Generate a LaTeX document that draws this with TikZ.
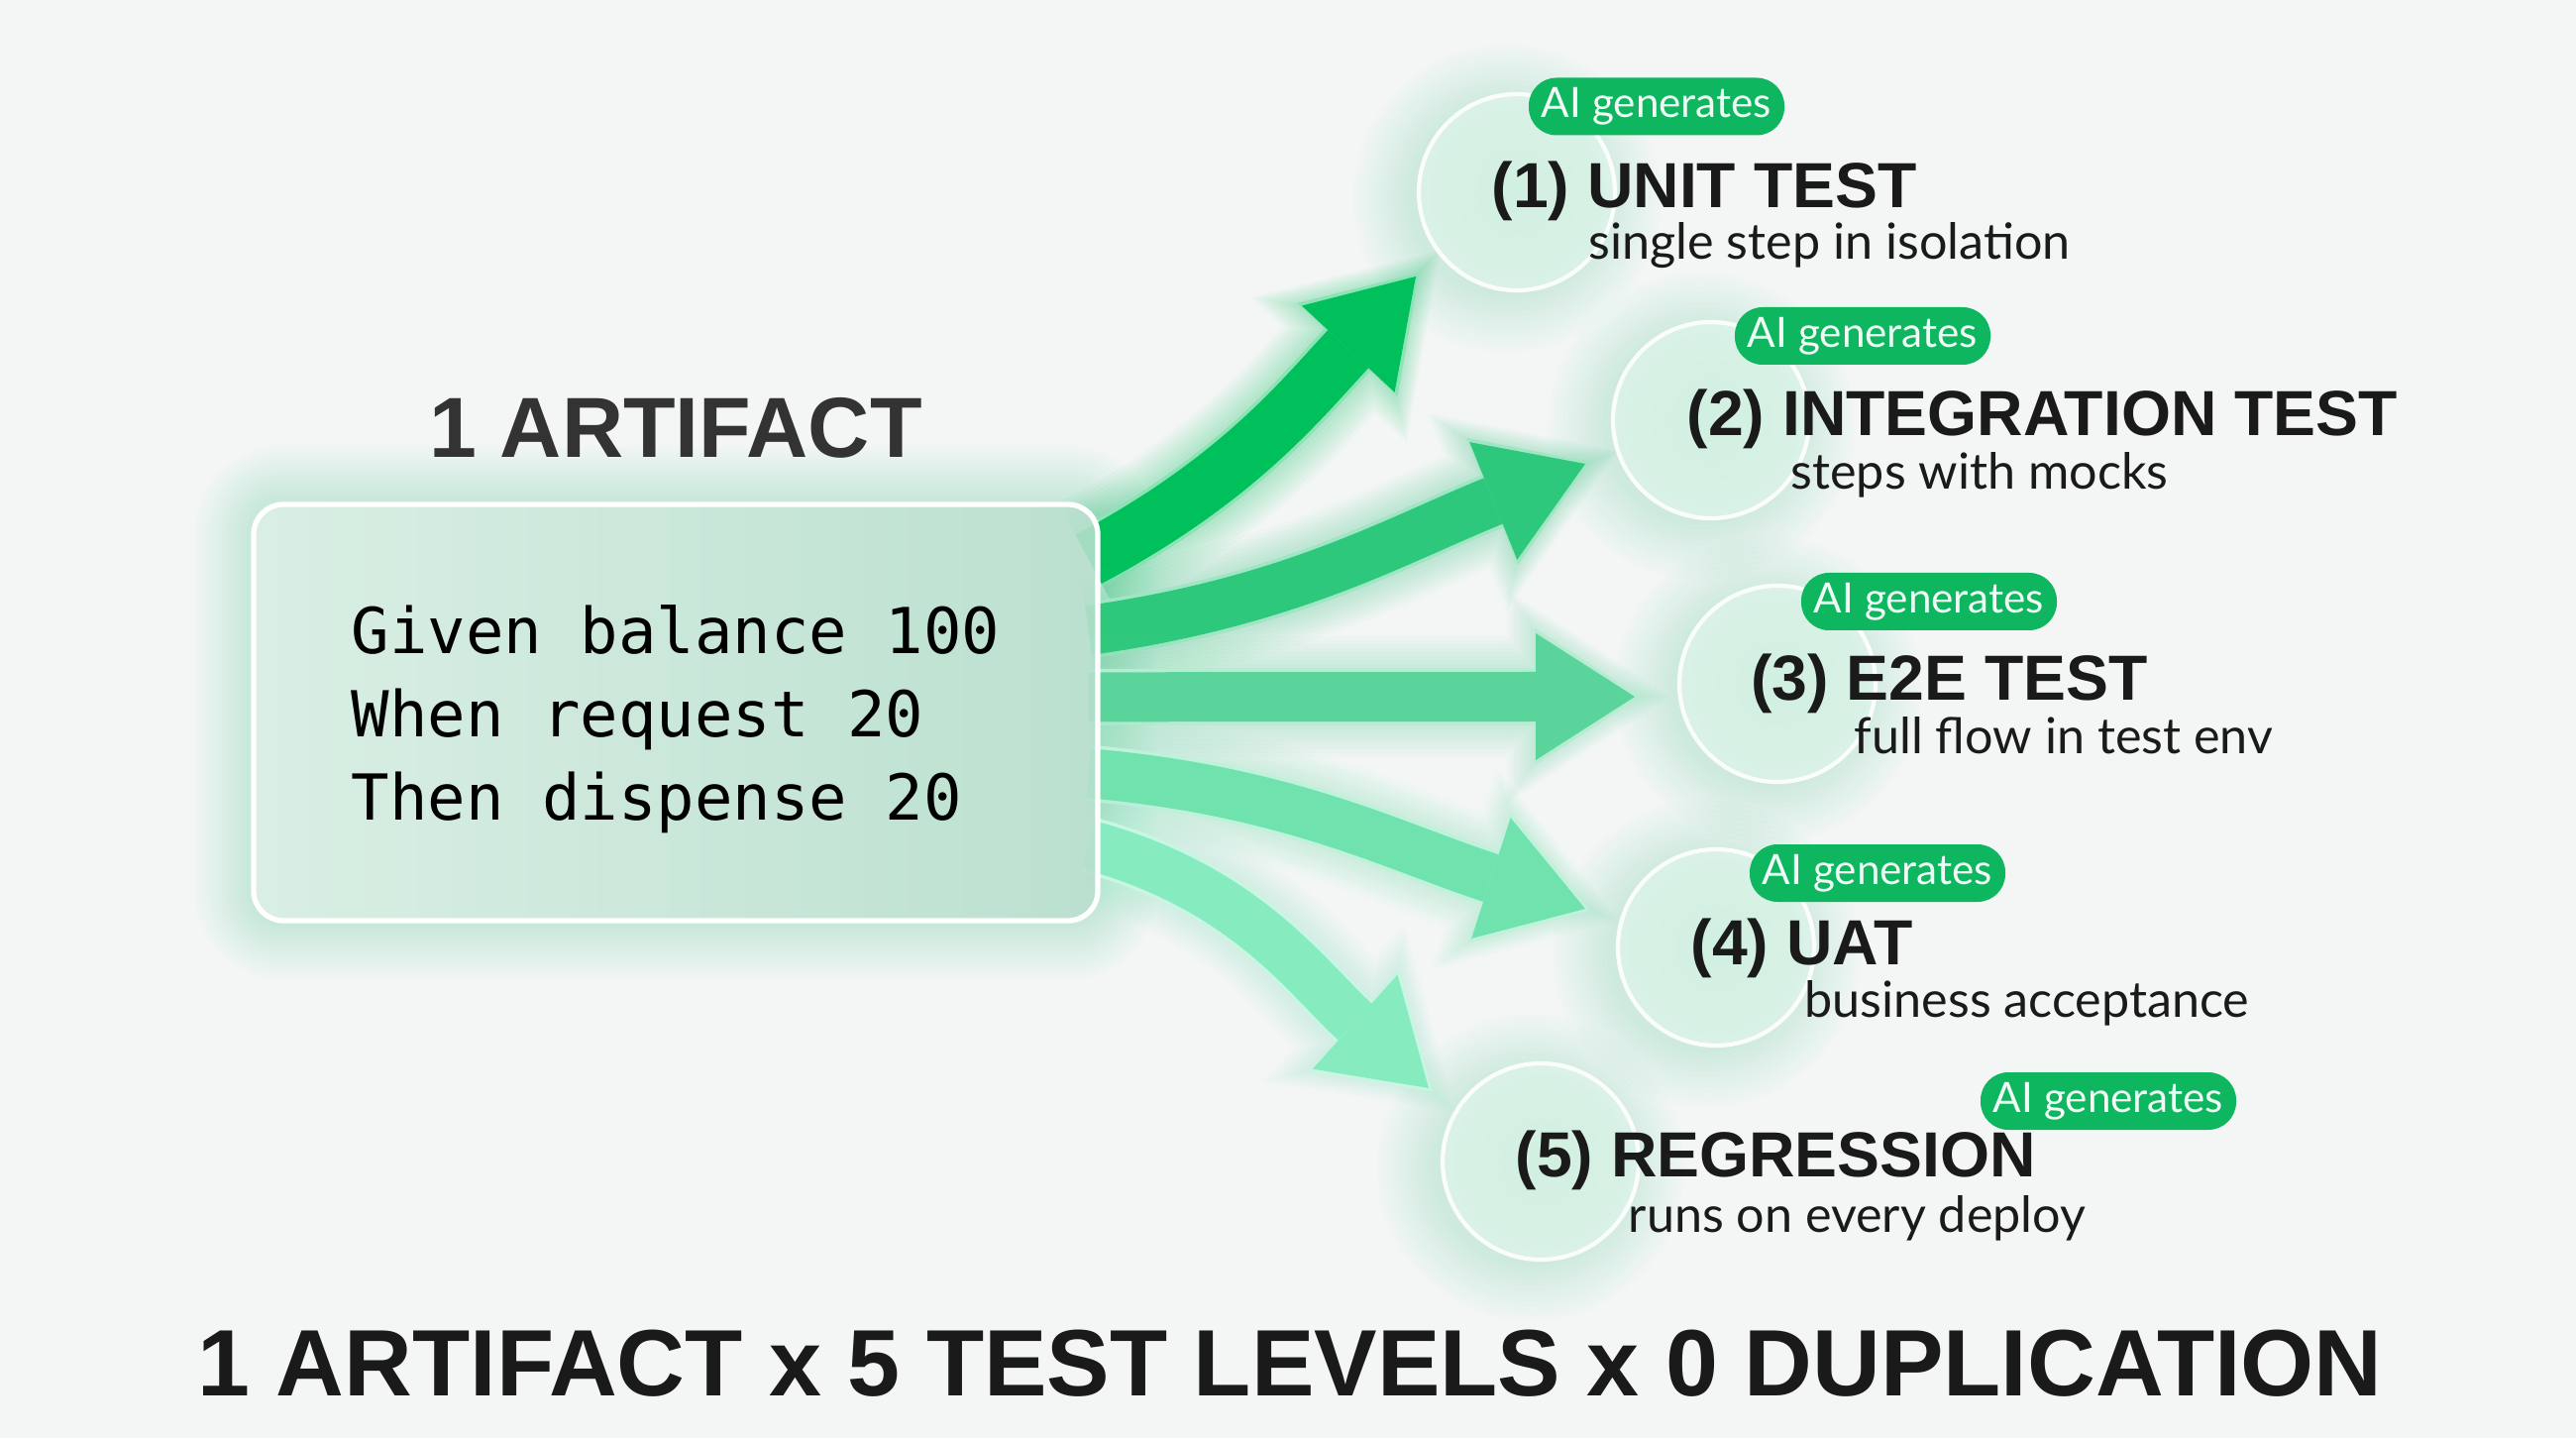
\documentclass[tikz,border=0pt]{standalone}
\usepackage{fontspec}
\setmainfont{Liberation Sans}
\newfontfamily\monofont{DejaVu Sans Mono}
\newfontfamily\labelfont{Lato}
\usetikzlibrary{calc, positioning, arrows.meta}
\definecolor{PageGray}{RGB}{244, 246, 246}
\definecolor{FlowA}{RGB}{0, 192, 92}
\definecolor{FlowB}{RGB}{46, 200, 124}
\definecolor{FlowC}{RGB}{90, 212, 154}
\definecolor{FlowD}{RGB}{112, 226, 174}
\definecolor{FlowE}{RGB}{134, 236, 192}
\definecolor{PillGreen}{RGB}{14, 182, 96}
\definecolor{MintGlow}{RGB}{110, 218, 164}
\definecolor{BoxMint}{RGB}{186, 224, 206}
\definecolor{InkDark}{RGB}{26, 26, 26}
\definecolor{TitleGray}{RGB}{51, 51, 51}

\pgfdeclarelayer{glow}
\pgfdeclarelayer{flow}
\pgfsetlayers{glow,flow,main}

\tikzset{
    level/.style={circle, minimum size=1.98cm, inner sep=0pt, inner color=MintGlow!30!white,
                  outer color=white!80!MintGlow, fill opacity=0.6, draw=white, draw opacity=0.9, line width=1.2pt},
    leveltitle/.style={anchor=base west, inner sep=0pt, text=InkDark,
                       font=\fontsize{18.3}{20}\selectfont\bfseries},
    levelnote/.style={anchor=base west, inner sep=0pt, text=InkDark,
                      font=\labelfont\fontsize{14.3}{16}\selectfont},
    aitag/.style={rectangle, rounded corners=0.28cm, minimum width=2.58cm, minimum height=0.58cm,
                  inner sep=0pt, fill=PillGreen, text=white!94!PillGreen,
                  font=\labelfont\fontsize{12}{14}\selectfont}
}

\begin{document}
\begin{tikzpicture}
            % page
            \begin{pgfonlayer}{glow}
                \fill[PageGray] (0,0) rectangle (26,14.51);
            \end{pgfonlayer}
            \useasboundingbox (0,0) rectangle (26,14.51);

            % The one artifact card
            \node[draw=white, line width=1.5pt, rounded corners=0.3cm, minimum width=8.52cm, minimum height=4.2cm,
                  left color=BoxMint!50!white, right color=BoxMint, fill opacity=0.88, text opacity=1,
                  align=left, font=\monofont\fontsize{18.2}{23.9}\selectfont] (artifact) at (6.82,7.32)
                {\rule{0pt}{0.63cm}Given balance 100\\When request 20\\Then dispense 20};
            \node[above=0.43cm of artifact, inner sep=0pt, text=TitleGray,
                  font=\fontsize{24.5}{28}\selectfont\bfseries] (artifacttitle) {1 ARTIFACT};

            % halo round the card
            \begin{pgfonlayer}{glow}
                \foreach \g in {0.04,0.08,...,0.6} {
                    \fill[MintGlow, opacity=0.025, rounded corners=0.3cm+\g cm]
                        ($(artifact.south west)+(-\g,-\g)$) rectangle ($(artifact.north east)+(\g,\g)$);
                }
            \end{pgfonlayer}

            % (1) unit test
            \node[level] (lvl1) at (15.31,12.57) {};
            \node[leveltitle] (title1) at (15.05,12.41) {(1) UNIT TEST};
            \node[levelnote] (note1) at (16.03,11.89) {single step in isolation};
            \node[aitag] (tag1) at (16.72,13.435) {AI generates};

            % (2) integration test
            \node[level] (lvl2) at (17.27,10.27) {};
            \node[leveltitle] (title2) at (17.02,10.11) {(2) INTEGRATION TEST};
            \node[levelnote] (note2) at (18.07,9.57) {steps with mocks};
            \node[aitag] (tag2) at (18.80,11.12) {AI generates};

            % (3) e2e test
            \node[level] (lvl3) at (17.94,7.61) {};
            \node[leveltitle] (title3) at (17.665,7.44) {(3) E2E TEST};
            \node[levelnote] (note3) at (18.71,6.90) {full flow in test env};
            \node[aitag] (tag3) at (19.47,8.44) {AI generates};

            % (4) uat
            \node[level] (lvl4) at (17.32,4.95) {};
            \node[leveltitle] (title4) at (17.06,4.78) {(4) UAT};
            \node[levelnote] (note4) at (18.21,4.245) {business acceptance};
            \node[aitag] (tag4) at (18.95,5.70) {AI generates};

            % (5) regression
            \node[level] (lvl5) at (15.55,2.79) {};
            \node[leveltitle] (title5) at (15.29,2.64) {(5) REGRESSION};
            \node[levelnote] (note5) at (16.43,2.08) {runs on every deploy};
            \node[aitag] (tag5) at (21.28,3.40) {AI generates};

            % soft glow behind the level circles
            \begin{pgfonlayer}{glow}
                \foreach \k in {1,...,5} {
                    \foreach \r in {1.0,1.05,...,1.6} {
                        \fill[MintGlow, opacity=0.022] ($(lvl\k)+(-0.1,-0.06)$) circle (\r);
                    }
                }
            \end{pgfonlayer}

            % arrow ends
            \foreach \k/\f in {1/0.136, 2/0.305, 3/0.463, 4/0.644, 5/0.814} {
                \coordinate (src\k) at ($(artifact.north east)!\f!(artifact.south east)+(-0.12,0)$);
            }
            \coordinate (tip1) at (14.29,11.72);
            \coordinate (tip2) at (16.00,9.83);
            \coordinate (tip3) at (16.50,7.48);
            \coordinate (tip4) at (16.00,5.34);
            \coordinate (tip5) at (14.42,3.53);

            % Fan of arrows, behind the card
            \begin{pgfonlayer}{flow}
            \foreach \k/\col/\o/\i/\w in {1/FlowA/28/227/0.56, 2/FlowB/8/202/0.5, 3/FlowC/0/180/0.5,
                                           4/FlowD/-5/162/0.5, 5/FlowE/-15/138/0.5} {
                \foreach \g in {0.08,0.16,...,0.8} {
                    \pgfmathsetmacro\hw{1.28+1.2*\g}
                    \pgfmathsetmacro\hl{1.0+0.9*\g}
                    \draw[\col, opacity=0.035, line width={(\w+\g)*1cm}, shorten >={-0.5*\g*1cm},
                          -{Triangle[width=\hw cm, length=\hl cm, line width=0pt]}]
                        (src\k) to[out=\o, in=\i] (tip\k);
                }
                \draw[white!55!\col, line width={(\w+0.07)*1cm}, shorten >=-0.05cm,
                      -{Triangle[width=1.38cm, length=1.06cm, line width=0pt]}]
                    (src\k) to[out=\o, in=\i] (tip\k);
                \draw[\col, line width={\w*1cm},
                      -{Triangle[width=1.28cm, length=1.0cm, line width=0pt]}]
                    (src\k) to[out=\o, in=\i] (tip\k);
            }
            \end{pgfonlayer}

            % take-away line
            \node[anchor=base, inner sep=0pt, text=InkDark, font=\fontsize{27.1}{30}\selectfont\bfseries]
                (tagline) at (13.02,0.43) {1 ARTIFACT x 5 TEST LEVELS x 0 DUPLICATION};
\end{tikzpicture}
\end{document}
